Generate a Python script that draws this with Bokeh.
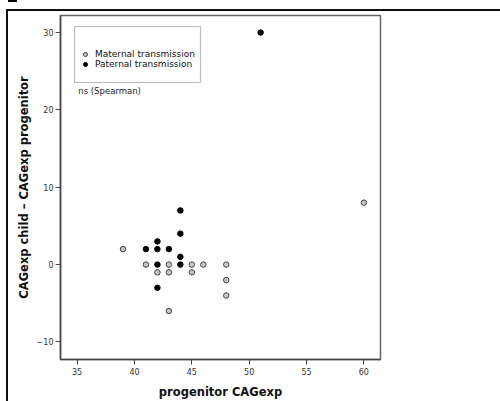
from bokeh.plotting import figure
from bokeh.models import (ColumnDataSource, Legend, LegendItem, BoxAnnotation,
                          Label, FixedTicker, Range1d, InlineStyleSheet)
from bokeh.embed import file_html
from bokeh.resources import INLINE

# Data
maternal_x = [39, 41, 43, 45, 46, 48, 42, 43, 45, 48, 48, 43, 60]
maternal_y = [2, 0, 0, 0, 0, 0, -1, -1, -1, -2, -4, -6, 8]
paternal_x = [44, 44, 42, 41, 42, 43, 44, 42, 44, 42, 51]
paternal_y = [7, 4, 3, 2, 2, 2, 1, 0, 0, -3, 30]

x_ticks = [35, 40, 45, 50, 55, 60]
y_ticks = [-10, 0, 10, 20, 30]

FONT = "DejaVu Sans"

frame_css = InlineStyleSheet(css="""
:host { position: relative; }
:host::after {
  content: ""; position: absolute; left: 6px; top: 9px; right: 0; bottom: 0;
  border-left: 2px solid #111; border-top: 2px solid #111;
  pointer-events: none; z-index: 10;
}
:host::before {
  content: ""; position: absolute; left: 8px; top: 0; width: 9px; height: 2px;
  background: #000; pointer-events: none; z-index: 10;
}
""")

p = figure(width=500, height=401, output_backend="svg", toolbar_location=None,
           x_range=Range1d(33.55, 61.45), y_range=Range1d(-12.27, 32.2),
           min_border_left=60, min_border_right=120, min_border_top=15,
           min_border_bottom=39, background_fill_color="white",
           border_fill_color="white", stylesheets=[frame_css])

p.xgrid.visible = False
p.ygrid.visible = False
p.outline_line_color = "#666666"
p.outline_line_width = 1.5

for ax in (p.xaxis[0], p.yaxis[0]):
    ax.axis_line_color = "#444444"
    ax.axis_line_width = 1.5
    ax.major_tick_line_color = "#444444"
    ax.major_tick_out = 5
    ax.major_tick_in = 0
    ax.minor_tick_line_color = None
    ax.major_label_text_font = FONT
    ax.major_label_text_font_size = "8px"
    ax.major_label_text_color = "#333333"
    ax.axis_label_text_font = FONT
    ax.axis_label_text_font_style = "bold"
    ax.axis_label_text_font_size = "11.5px"
    ax.axis_label_text_color = "#111111"

p.xaxis[0].ticker = FixedTicker(ticks=x_ticks)
p.yaxis[0].ticker = FixedTicker(ticks=y_ticks)
p.xaxis[0].axis_label = "progenitor CAGexp"
p.yaxis[0].axis_label = "CAGexp child \u2013 CAGexp progenitor"
p.xaxis[0].major_label_standoff = 3
p.yaxis[0].major_label_standoff = 2
p.xaxis[0].axis_label_standoff = 7
p.yaxis[0].axis_label_standoff = 3

src_m = ColumnDataSource(dict(x=maternal_x, y=maternal_y))
src_p = ColumnDataSource(dict(x=paternal_x, y=paternal_y))

r_m = p.scatter("x", "y", source=src_m, size=5.5, fill_color="#c4c4c4",
                line_color="#444444", line_width=1)
r_p = p.scatter("x", "y", source=src_p, size=5.5, fill_color="black",
                line_color="black", line_width=1)

# legend frame
p.add_layout(BoxAnnotation(left=74, right=200, top=26, bottom=82,
                           left_units="canvas", right_units="canvas",
                           top_units="canvas", bottom_units="canvas",
                           fill_alpha=0, line_color="#222222", line_width=1.2,
                           level="overlay"))

legend = Legend(items=[LegendItem(label="Maternal transmission", renderers=[r_m]),
                       LegendItem(label="Paternal transmission", renderers=[r_p])],
                location=(20, 290), padding=0, spacing=0, margin=0,
                label_height=10, glyph_height=10, glyph_width=10,
                label_standoff=5, label_text_font=FONT,
                label_text_font_size="9px", label_text_color="#111111",
                border_line_alpha=0, background_fill_alpha=0)
p.add_layout(legend, "center")

p.add_layout(Label(x=35.1, y=22.4, text="ns (Spearman)", text_font=FONT,
                   text_font_size="8.5px", text_color="#222222",
                   text_baseline="middle"))

open("out.html", "w").write(file_html(p, INLINE))
